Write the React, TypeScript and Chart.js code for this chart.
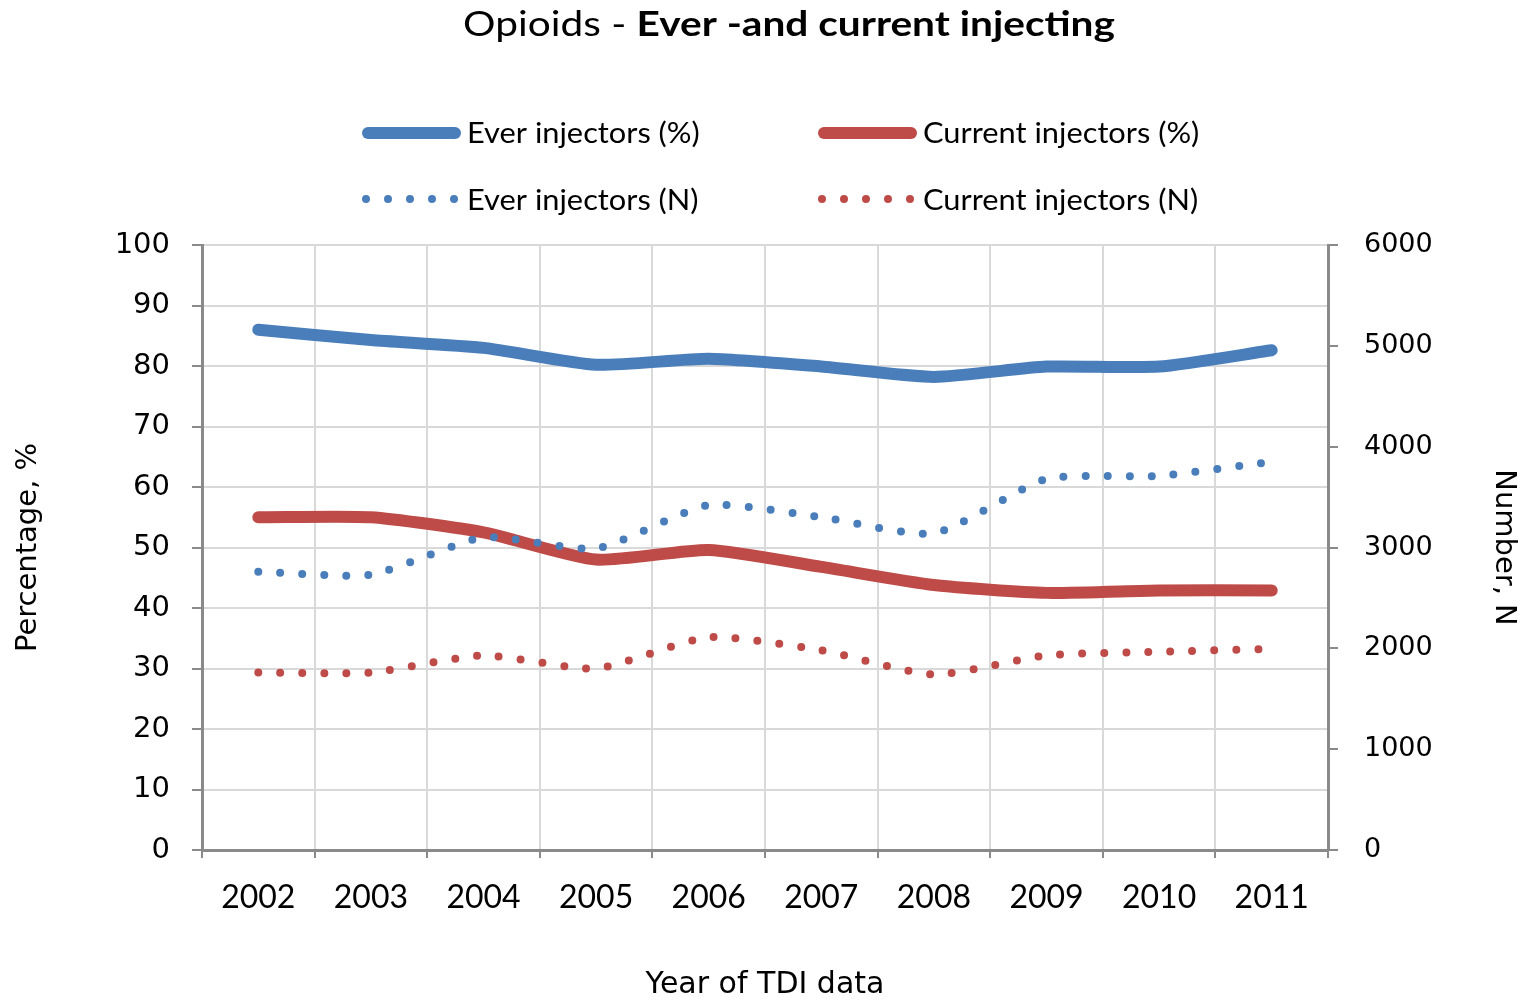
import React, { useEffect, useRef } from "react";
import { Chart, registerables } from "chart.js";

Chart.register(...registerables);

const years = ["2002", "2003", "2004", "2005", "2006", "2007", "2008", "2009", "2010", "2011"];
const everPct = [86, 84.3, 83, 80.2, 81.2, 79.9, 78.2, 79.9, 79.9, 82.6];
const currentPct = [55, 55, 52.5, 48, 49.6, 46.8, 43.8, 42.5, 42.9, 42.9];
const everN = [2760, 2730, 3100, 2990, 3420, 3300, 3140, 3680, 3710, 3850];
const currentN = [1760, 1760, 1930, 1800, 2110, 1980, 1740, 1930, 1965, 1995];

const seriesLabels = ["Ever injectors (%)", "Current injectors (%)", "Ever injectors (N)", "Current injectors (N)"];
const titleRegular = "Opioids - ";
const titleBold = "Ever -and current injecting";
const xTitle = "Year of TDI data";
const yLeftTitle = "Percentage, %";
const yRightTitle = "Number, N";
const leftMax = 100;
const leftStep = 10;
const rightMax = 6000;
const rightStep = 1000;

const BLUE = "#4A7EBB";
const RED = "#BE4B48";
const AXIS = "#8A8A8A";
const GRID = "#D9D9D9";

const overlayPlugin = {
  id: "overlay",
  afterDraw(chart: any) {
    const ctx = chart.ctx as CanvasRenderingContext2D;
    ctx.save();
    // Title with mixed weights (slightly widened like the original)
    const fReg = "35px Lato";
    const fBold = "bold 35px Lato";
    const sx = 1.16;
    ctx.font = fReg;
    const w1 = ctx.measureText(titleRegular).width;
    ctx.font = fBold;
    const w2 = ctx.measureText(titleBold).width;
    const total = (w1 + w2) * sx;
    const x0 = 789 - total / 2;
    ctx.fillStyle = "#000";
    ctx.textBaseline = "alphabetic";
    ctx.textAlign = "left";
    ctx.save();
    ctx.translate(x0, 36);
    ctx.scale(sx, 1);
    ctx.font = fReg;
    ctx.fillText(titleRegular, 0, 0);
    ctx.font = fBold;
    ctx.fillText(titleBold, w1, 0);
    ctx.restore();

    // Legend (2 x 2)
    const colLineX = [362, 818];
    const lineLen = 98;
    const textGap = 7;
    const rowLineY = [133, 199];
    const rowTextY = [143, 210];
    chart.data.datasets.forEach((ds: any, i: number) => {
      const col = i % 2;
      const row = Math.floor(i / 2);
      const lx = colLineX[col];
      const ly = rowLineY[row];
      ctx.save();
      ctx.strokeStyle = ds.borderColor;
      ctx.lineWidth = ds.borderWidth;
      ctx.lineCap = "round";
      ctx.setLineDash(ds.borderDash || []);
      ctx.beginPath();
      ctx.moveTo(lx + ds.borderWidth / 2, ly);
      ctx.lineTo(lx + lineLen - ds.borderWidth / 2 + 1, ly);
      ctx.stroke();
      ctx.restore();
      ctx.save();
      ctx.translate(lx + lineLen + textGap, rowTextY[row]);
      ctx.scale(1.1, 1);
      ctx.font = "28px Lato";
      ctx.fillStyle = "#000";
      ctx.textBaseline = "alphabetic";
      ctx.fillText(ds.label, 0, 0);
      ctx.restore();
    });
    ctx.restore();
  },
};

export default function App() {
  const canvasRef = useRef<HTMLCanvasElement | null>(null);

  useEffect(() => {
    if (!canvasRef.current) return;
    const solid = (label: string, data: number[], color: string) => ({
      label,
      data,
      yAxisID: "y",
      borderColor: color,
      backgroundColor: color,
      borderWidth: 12,
      borderCapStyle: "round",
      borderJoinStyle: "round",
      pointRadius: 0,
      tension: 0.2,
      order: 1,
    });
    const dotted = (label: string, data: number[], color: string) => ({
      label,
      data,
      yAxisID: "y1",
      borderColor: color,
      backgroundColor: color,
      borderWidth: 8,
      borderDash: [0, 22],
      borderCapStyle: "round",
      pointRadius: 0,
      tension: 0.2,
      order: 0,
    });
    const chart = new Chart(canvasRef.current, {
      type: "line",
      data: {
        labels: years,
        datasets: [
          solid(seriesLabels[0], everPct, BLUE),
          solid(seriesLabels[1], currentPct, RED),
          dotted(seriesLabels[2], everN, BLUE),
          dotted(seriesLabels[3], currentN, RED),
        ] as any,
      },
      options: {
        animation: false,
        responsive: true,
        maintainAspectRatio: false,
        layout: { padding: { top: 245, left: 0, right: 0, bottom: 0 } },
        plugins: {
          legend: { display: false },
          title: { display: false },
          tooltip: { enabled: false },
        },
        scales: {
          x: {
            offset: true,
            grid: {
              offset: true,
              color: GRID,
              lineWidth: 2,
              tickColor: AXIS,
              tickLength: 8,
              drawTicks: true,
            },
            border: { display: true, color: AXIS, width: 3 },
            ticks: {
              color: "#000",
              font: { family: "Lato", size: 32 },
              padding: 20,
              maxRotation: 0,
              autoSkip: false,
            },
            title: {
              display: true,
              text: xTitle,
              color: "#000",
              font: { family: "DejaVu Sans", size: 30, lineHeight: 1 },
              padding: { top: 0, bottom: 0 },
            },
            afterFit(scale: any) {
              scale.height = 150;
            },
          },
          y: {
            position: "left",
            min: 0,
            max: leftMax,
            grid: {
              color: GRID,
              lineWidth: 2,
              tickColor: AXIS,
              tickLength: 10,
            },
            border: { display: true, color: AXIS, width: 3 },
            ticks: {
              stepSize: leftStep,
              color: "#000",
              font: { family: "DejaVu Sans", size: 29 },
              padding: 22,
              callback: (v: any) => String(v),
            },
            title: {
              display: true,
              text: yLeftTitle,
              color: "#000",
              font: { family: "DejaVu Sans", size: 29, lineHeight: 1.2 },
              padding: { top: 11, bottom: 0 },
            },
            afterFit(scale: any) {
              scale.width = 202;
            },
          },
          y1: {
            position: "right",
            min: 0,
            max: rightMax,
            grid: {
              drawOnChartArea: false,
              color: GRID,
              tickColor: AXIS,
              lineWidth: 2,
              tickLength: 10,
            },
            border: { display: true, color: AXIS, width: 3 },
            ticks: {
              stepSize: rightStep,
              color: "#000",
              font: { family: "DejaVu Sans", size: 27 },
              padding: 26,
              callback: (v: any) => String(v),
            },
            title: {
              display: true,
              text: yRightTitle,
              color: "#000",
              font: { family: "DejaVu Sans", size: 29, lineHeight: 1.2 },
              padding: { top: 5, bottom: 0 },
            },
            afterFit(scale: any) {
              scale.width = 198;
            },
          },
        },
      },
      plugins: [overlayPlugin],
    });
    return () => chart.destroy();
  }, []);

  return (
    <div style={{ position: "fixed", left: 0, top: 0, width: 1526, height: 1000, background: "#fff" }}>
      <canvas ref={canvasRef} />
    </div>
  );
}
